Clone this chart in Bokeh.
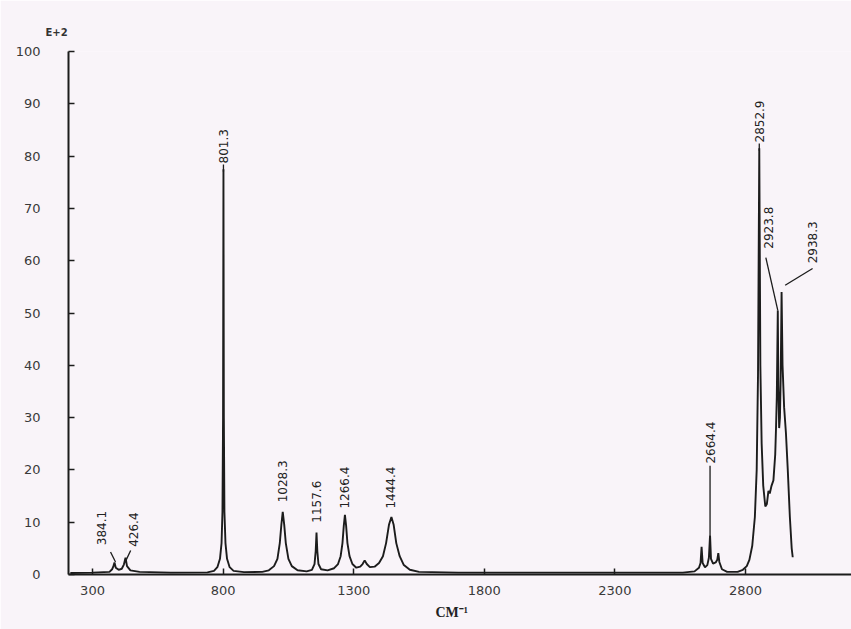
import math
from bokeh.plotting import figure
from bokeh.models import Range1d, FixedTicker, Title
from bokeh.embed import file_html
from bokeh.resources import INLINE
from bokeh.core.properties import value

# ---------------- data ----------------
spec_x = [215, 300, 365, 375, 380, 384.1, 389, 400, 412, 420, 426.4, 432, 445, 480, 600,
          740, 765, 778, 788, 794, 797.5, 799.8, 801.3, 802.8, 805, 809, 815, 825, 840, 880,
          950, 975, 995, 1008, 1017, 1023, 1028.3, 1034, 1040, 1050, 1063, 1085,
          1120, 1140, 1150, 1154.5, 1157.6, 1160.7, 1165, 1175, 1200,
          1225, 1240, 1250, 1257, 1262, 1266.4, 1271, 1276, 1284, 1295, 1310,
          1325, 1334, 1342, 1350, 1362, 1380,
          1397, 1412, 1424, 1435, 1444.4, 1453, 1463, 1476, 1492, 1515, 1550,
          1700, 2000, 2300, 2560, 2605, 2622, 2628, 2632, 2636, 2645, 2654, 2660, 2664.4,
          2668, 2676, 2686, 2692, 2696, 2700, 2710, 2730, 2770,
          2790, 2805, 2815, 2826, 2836, 2843, 2848, 2852.9, 2857, 2862, 2868, 2876, 2882,
          2888, 2893, 2900, 2907, 2914, 2917, 2920, 2923.8, 2926, 2929, 2932, 2935, 2938.3, 2942,
          2948, 2955, 2962, 2970, 2977, 2981]
spec_y = [0.3, 0.35, 0.5, 1.0, 1.6, 2.3, 1.3, 0.9, 1.1, 1.9, 3.2, 1.6, 0.8, 0.5, 0.35,
          0.4, 0.7, 1.4, 3.0, 6.0, 12, 30, 77.5, 30, 12, 6, 3, 1.4, 0.7, 0.45,
          0.5, 0.8, 1.6, 3.0, 6.0, 9.5, 12, 9.5, 6, 3, 1.6, 0.8,
          0.6, 0.9, 2.0, 4.5, 8, 4.5, 2, 1, 0.8,
          1.2, 2.0, 3.5, 6, 9.3, 11.4, 9.3, 6, 3.5, 2, 1.3,
          1.5, 2.0, 2.7, 2.0, 1.4, 1.5,
          2.2, 3.5, 6, 9.5, 11, 9.5, 6, 3.5, 1.8, 0.9, 0.5,
          0.35, 0.35, 0.35, 0.35, 0.6, 1.3, 2.2, 5.3, 2.2, 1.4, 1.8, 3.2, 7.5,
          3.0, 2.1, 2.3, 2.8, 4.1, 2.4, 1.0, 0.5, 0.5,
          0.9, 1.6, 2.8, 5.5, 11, 20, 38, 81.5, 40, 25, 17, 13, 13.5,
          16, 15.5, 17, 18, 23, 28, 34, 50.5, 36, 28, 30, 38, 54, 40,
          32, 27, 20, 11, 5, 3.3]

peak_pos = [384.1, 426.4, 801.3, 1028.3, 1157.6, 1266.4, 1444.4, 2664.4, 2852.9, 2923.8, 2938.3]
peak_labels = ["%.1f" % v for v in peak_pos]

x_ticks = [300, 800, 1300, 1800, 2300, 2800]
y_ticks = [0, 10, 20, 30, 40, 50, 60, 70, 80, 90, 100]

# ---------------- layout of the peak annotations ----------------
label_x = [334, 457, 801.3, 1028.3, 1157.6, 1264, 1442, 2664.4, 2852.9, 2890, 3057]
label_y = [5.6, 5.3, 78.6, 13.8, 9.9, 12.6, 12.6, 21.2, 82.6, 62.3, 59.5]
lead_x0 = [369, 446, 801.3, 2664.4, 2852.9, 2878, 3057]
lead_y0 = [4.3, 4.6, 78.4, 20.8, 82.4, 60.6, 58.5]
lead_x1 = [388, 429, 801.3, 2664.4, 2852.9, 2923.8, 2952]
lead_y1 = [2.4, 2.8, 77.0, 7.5, 81.0, 50.5, 55.3]

BG = "#f9f4f9"
INK = "#1c1c1c"

p = figure(width=851, height=629, output_backend="svg", toolbar_location=None,
           x_range=Range1d(208, 3206), y_range=Range1d(0, 100),
           min_border_left=68, min_border_right=0, min_border_top=51, min_border_bottom=55,
           background_fill_color=BG, border_fill_color=BG)
p.outline_line_color = None
p.xgrid.visible = False
p.ygrid.visible = False

for ax in (p.xaxis[0], p.yaxis[0]):
    ax.axis_line_width = 2
    ax.axis_line_color = INK
    ax.major_tick_in = 6
    ax.major_tick_out = 0
    ax.major_tick_line_width = 1.5
    ax.major_tick_line_color = INK
    ax.minor_tick_in = 0
    ax.minor_tick_out = 0
    ax.major_label_text_font = "DejaVu Sans"
    ax.major_label_text_font_size = "13px"
    ax.major_label_text_color = "#3a3a3a"

p.xaxis.ticker = FixedTicker(ticks=x_ticks)
p.yaxis.ticker = FixedTicker(ticks=y_ticks)
p.xaxis.major_label_standoff = 11
p.yaxis.major_label_standoff = 28

# spectrum
p.line(spec_x, spec_y, line_color=INK, line_width=1.9)

# leader lines and peak labels
p.segment(x0=lead_x0, y0=lead_y0, x1=lead_x1, y1=lead_y1, line_color=INK, line_width=1.3)
p.text(x=label_x, y=label_y, text=peak_labels, angle=math.pi / 2,
       text_align="left", text_baseline="middle",
       text_font=value("DejaVu Sans"), text_font_size="12px", text_color="#222222")

# exponent note above the y axis
p.title.text = "E+2"
p.title.align = "left"
p.title.offset = -23
p.title.standoff = 28
p.title.text_font = "DejaVu Sans"
p.title.text_font_size = "10px"
p.title.text_font_style = "bold"
p.title.text_color = "#333333"

# axis unit below the x axis
p.add_layout(Title(text="CM\u207b\u00b9", align="left", offset=367, standoff=11,
                   text_font="Liberation Serif", text_font_size="14px",
                   text_font_style="bold", text_color="#222222"), "below")

open("out.html", "w").write(file_html(p, INLINE))
